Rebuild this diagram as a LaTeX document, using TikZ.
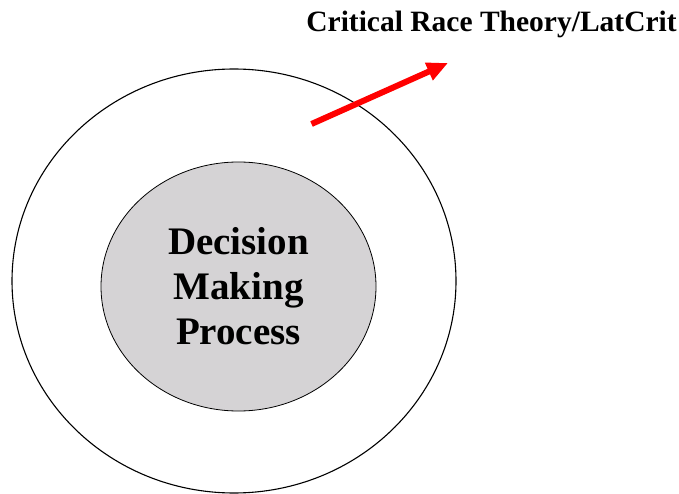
\documentclass[tikz,border=0pt]{standalone}
\usepackage{fontspec}
\setmainfont{Liberation Serif}
\usetikzlibrary{shapes.geometric,arrows.meta}
\definecolor{innergray}{RGB}{213,211,213}
\definecolor{arrowred}{RGB}{255,0,0}
\begin{document}
\begin{tikzpicture}[x=1pt,y=1pt,
  ring/.style={draw=black,ellipse,inner sep=0pt,line width=1.1pt},
  redarrow/.style={draw=arrowred,line width=6pt,-{Triangle[length=21pt,width=18pt]}}]
\useasboundingbox (0,0) rectangle (679,493);
\node[ring,minimum width=444pt,minimum height=424pt] (outer) at (234,212) {};
\node[ring,line width=0.8pt,fill=innergray,minimum width=275pt,minimum height=249pt,
  align=center,font=\fontsize{39}{45}\selectfont\bfseries] (inner) at (238.5,206.5)
  {Decision\\Making\\Process};
\node[font=\fontsize{29.5}{34}\selectfont\bfseries,anchor=base] (title) at (491.5,461) {Critical Race Theory/LatCrit};
\coordinate (tail) at (311.5,369);
\coordinate (tip) at (448,430);
\draw[redarrow] (tail) -- (tip);
\end{tikzpicture}
\end{document}
